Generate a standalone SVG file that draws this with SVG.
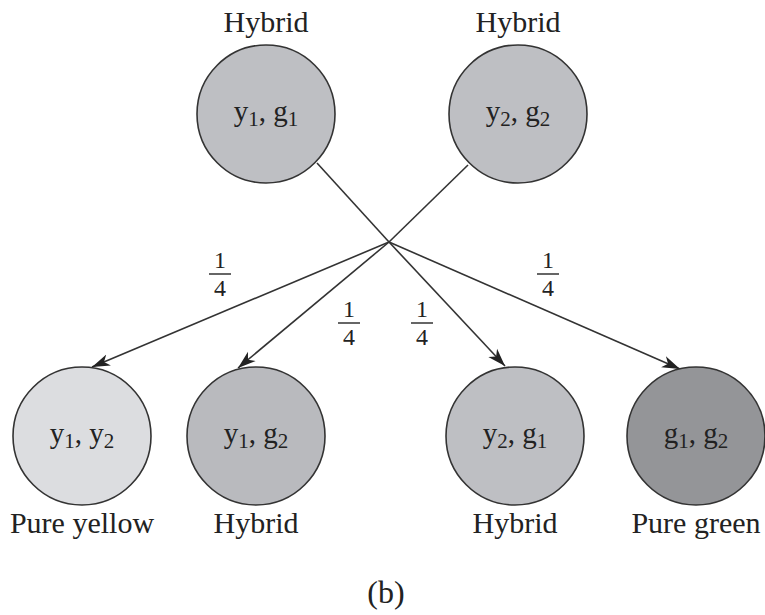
<svg xmlns="http://www.w3.org/2000/svg" width="765" height="615" viewBox="0 0 765 615">
<defs>
<style>
text{font-family:"Liberation Serif","Times New Roman",serif;fill:#222;}
.lbl{font-size:30px;text-anchor:middle;}
.gen{font-size:29px;text-anchor:middle;}
.sub{font-size:21px;}
.frac{font-size:24px;text-anchor:middle;}
circle{stroke:#333;stroke-width:1.6;}
.edge{stroke:#333;stroke-width:1.6;fill:none;}
.bar{stroke:#333;stroke-width:1.5;}
</style>
<marker id="arr" markerUnits="userSpaceOnUse" markerWidth="20" markerHeight="14" refX="18" refY="7" orient="auto">
<path d="M0,1 L18,7 L0,13 L5,7 Z" fill="#222"/>
</marker>
</defs>
<rect width="765" height="615" fill="#fff"/>
<g id="connectors">
<line class="edge" x1="317" y1="163" x2="389" y2="242"/>
<line class="edge" x1="468" y1="165" x2="389" y2="242"/>
<line class="edge" x1="389" y1="242" x2="92" y2="367" marker-end="url(#arr)"/>
<line class="edge" x1="389" y1="242" x2="238" y2="368" marker-end="url(#arr)"/>
<line class="edge" x1="389" y1="242" x2="505" y2="366" marker-end="url(#arr)"/>
<line class="edge" x1="389" y1="242" x2="680" y2="369" marker-end="url(#arr)"/>
</g>
<g id="frac1">
<text class="frac" x="220" y="268">1</text><line class="bar" x1="209" y1="274" x2="231" y2="274"/><text class="frac" x="220" y="296">4</text>
</g>
<g id="frac2">
<text class="frac" x="349" y="317">1</text><line class="bar" x1="338" y1="323" x2="360" y2="323"/><text class="frac" x="349" y="345">4</text>
</g>
<g id="frac3">
<text class="frac" x="422" y="317">1</text><line class="bar" x1="411" y1="323" x2="433" y2="323"/><text class="frac" x="422" y="345">4</text>
</g>
<g id="frac4">
<text class="frac" x="548" y="268">1</text><line class="bar" x1="537" y1="274" x2="559" y2="274"/><text class="frac" x="548" y="296">4</text>
</g>
<g id="parent1">
<text class="lbl" x="266" y="32">Hybrid</text>
<circle cx="266" cy="114" r="69" fill="#bebfc3"/>
<text class="gen" x="266" y="121">y<tspan class="sub" dy="5">1</tspan><tspan dy="-5">, g</tspan><tspan class="sub" dy="5">1</tspan></text>
</g>
<g id="parent2">
<text class="lbl" x="518" y="32">Hybrid</text>
<circle cx="518" cy="114" r="69" fill="#bebfc3"/>
<text class="gen" x="518" y="121">y<tspan class="sub" dy="5">2</tspan><tspan dy="-5">, g</tspan><tspan class="sub" dy="5">2</tspan></text>
</g>
<g id="child1">
<circle cx="82" cy="436" r="69" fill="#dcdde0"/>
<text class="gen" x="82" y="443">y<tspan class="sub" dy="5">1</tspan><tspan dy="-5">, y</tspan><tspan class="sub" dy="5">2</tspan></text>
<text class="lbl" x="82" y="533">Pure yellow</text>
</g>
<g id="child2">
<circle cx="256" cy="436" r="69" fill="#b9babe"/>
<text class="gen" x="256" y="443">y<tspan class="sub" dy="5">1</tspan><tspan dy="-5">, g</tspan><tspan class="sub" dy="5">2</tspan></text>
<text class="lbl" x="256" y="533">Hybrid</text>
</g>
<g id="child3">
<circle cx="515" cy="436" r="69" fill="#bebfc3"/>
<text class="gen" x="515" y="443">y<tspan class="sub" dy="5">2</tspan><tspan dy="-5">, g</tspan><tspan class="sub" dy="5">1</tspan></text>
<text class="lbl" x="515" y="533">Hybrid</text>
</g>
<g id="child4">
<circle cx="696" cy="436" r="69" fill="#949598"/>
<text class="gen" x="696" y="443">g<tspan class="sub" dy="5">1</tspan><tspan dy="-5">, g</tspan><tspan class="sub" dy="5">2</tspan></text>
<text class="lbl" x="696" y="533">Pure green</text>
</g>
<text class="lbl" x="386" y="603" style="font-size:32px">(b)</text>
</svg>
